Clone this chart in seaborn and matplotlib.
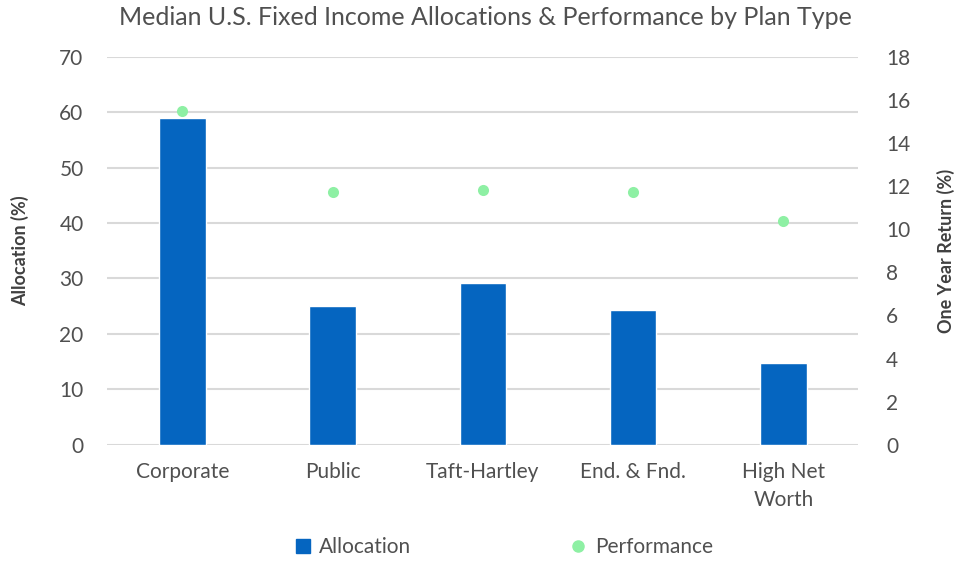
import pandas as pd
import seaborn as sns
import matplotlib.pyplot as plt
from matplotlib.lines import Line2D

# values
plan_types = ['Corporate', 'Public', 'Taft-Hartley', 'End. & Fnd.', 'High Net\nWorth']
allocation = [59.0, 25.0, 29.1, 24.3, 14.7]
performance = [15.5, 11.7, 11.8, 11.7, 10.4]

df = pd.DataFrame({'plan': plan_types, 'allocation': allocation, 'performance': performance})

sns.set_theme(style='white')
plt.rcParams['font.family'] = ['Lato', 'DejaVu Sans']
text_color = '#505050'
bar_color = '#0565C0'
dot_color = '#8EF0A4'

fig = plt.figure(figsize=(9.57, 5.66), dpi=100)
ax = fig.add_axes([0.112, 0.214, 0.785, 0.686])

sns.barplot(data=df, x='plan', y='allocation', color=bar_color, width=0.31,
            saturation=1, ax=ax, zorder=3)
ax.set_ylim(0, 70)
ax.set_yticks(range(0, 71, 10))
ax.yaxis.grid(True, color='#D9D9D9', linewidth=1.5, zorder=0)
ax.set_axisbelow(True)
ax.set_xlabel('')
ax.set_ylabel('Allocation (%)', fontsize=13, color='#404040', fontweight='bold', labelpad=22)
ax.tick_params(axis='both', length=0, labelsize=15, colors=text_color)
ax.tick_params(axis='y', pad=17)
ax.tick_params(axis='x', pad=12)
for lbl in ax.get_xticklabels():
    lbl.set_linespacing(1.5)

ax2 = ax.twinx()
sns.stripplot(data=df, x='plan', y='performance', color=dot_color, jitter=False,
              size=8, linewidth=0, ax=ax2, zorder=4)
ax2.set_ylim(0, 18)
ax2.set_yticks(range(0, 19, 2))
ax2.set_xlim(-0.5, 4.5)
ax.set_xlim(-0.5, 4.5)
ax2.set_ylabel('One Year Return (%)', fontsize=13, color='#404040', fontweight='bold', labelpad=19)
ax2.tick_params(axis='y', length=0, labelsize=15, colors=text_color, pad=20)

for a in (ax, ax2):
    for s in a.spines.values():
        s.set_visible(False)

fig.suptitle('Median U.S. Fixed Income Allocations & Performance by Plan Type',
             x=0.507, y=0.99, fontsize=18, color=text_color)

handles = [Line2D([], [], marker='s', linestyle='', color=bar_color, markersize=10),
           Line2D([], [], marker='o', linestyle='', color=dot_color, markersize=8)]
fig.legend(handles, ['Allocation', 'Performance'], loc='lower center', ncol=2,
           bbox_to_anchor=(0.525, -0.018), frameon=False, fontsize=15,
           labelcolor=text_color, columnspacing=7.5, handlelength=1.0,
           handletextpad=0.3)

fig.savefig('out.png', dpi=100)
